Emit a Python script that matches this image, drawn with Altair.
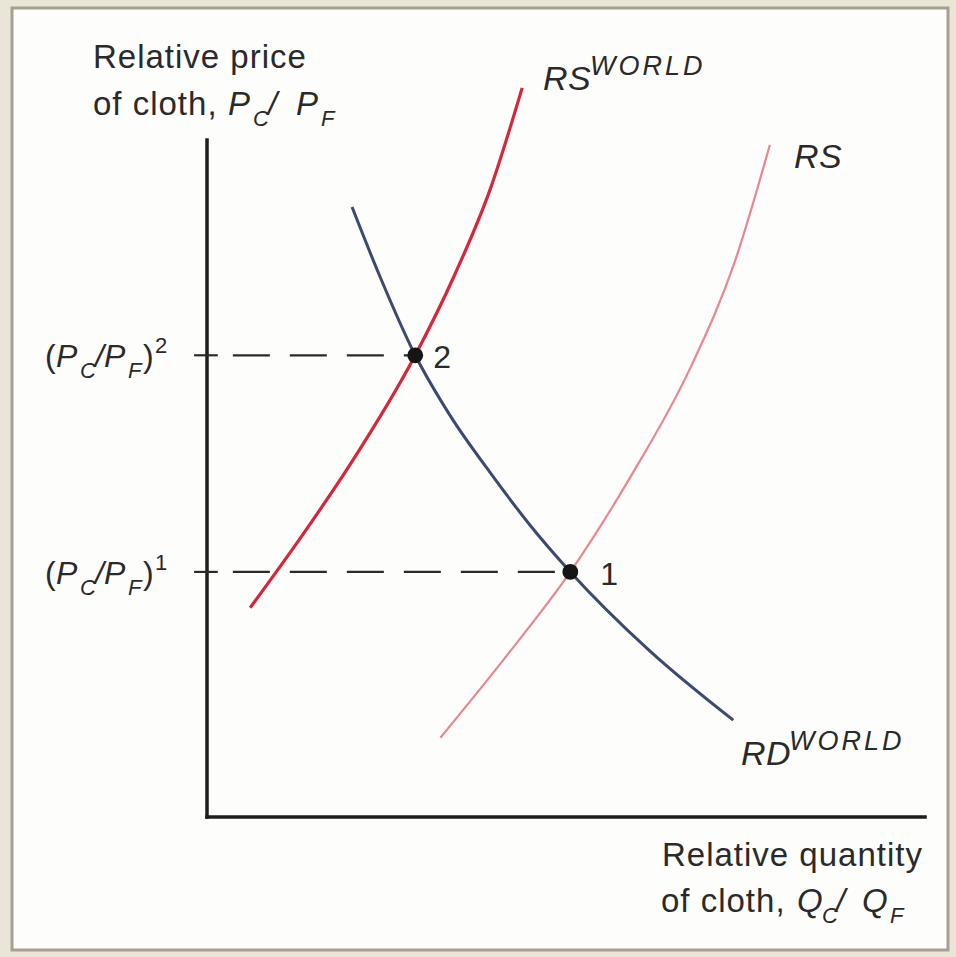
import altair as alt
import pandas as pd

# Supply and demand curves: relative quantity of cloth (q) vs relative price (p),
# both measured on 0-10 axes.
rs_world_q = [0.60, 1.30, 1.99, 2.90, 3.45, 3.94, 4.39]
rs_world_p = [3.09, 4.12, 5.20, 6.82, 8.01, 9.26, 10.77]

rs_q = [3.25, 4.15, 5.06, 5.89, 6.73, 7.35, 7.84]
rs_p = [1.17, 2.35, 3.62, 5.01, 6.63, 8.20, 9.93]

rd_world_q = [2.02, 2.41, 2.90, 3.38, 3.97, 4.50, 5.06, 6.17, 7.33]
rd_world_p = [9.01, 7.98, 6.82, 5.94, 5.05, 4.31, 3.62, 2.45, 1.43]

# Equilibria
eq_names = ["2", "1"]
eq_q = [2.90, 5.06]
eq_p = [6.82, 3.62]

FONT = "Liberation Sans"
INK = "#2a2a2a"

# plot region in pixels
X0, X1 = 207, 925
Y0, Y1 = 817, 140
xs = alt.Scale(domain=[0, 10], range=[X0, X1])
ys = alt.Scale(domain=[0, 10], range=[Y0, Y1])


def X(field):
    return alt.X(field, type="quantitative", scale=xs, axis=None)


def Y(field):
    return alt.Y(field, type="quantitative", scale=ys, axis=None)


one = pd.DataFrame({"k": [0]})

frame = alt.Chart(one).mark_rect(
    fill="#fdfdfb", stroke="#a59f94", strokeWidth=3
).encode(x=alt.value(12), x2=alt.value(948), y=alt.value(8), y2=alt.value(950))


def curve(q, p, color, width):
    df = pd.DataFrame({"q": q, "p": p})
    return alt.Chart(df).mark_line(
        color=color, strokeWidth=width, interpolate="monotone", clip=False
    ).encode(x=X("q"), y=Y("p"))


rs_world = curve(rs_world_q, rs_world_p, "#d6263a", 3.2)
rs = curve(rs_q, rs_p, "#e8878f", 2.2)
rd_world = curve(rd_world_q, rd_world_p, "#3b4a6e", 3.0)

eq = pd.DataFrame({"name": eq_names, "q": eq_q, "p": eq_p})

axes_df = pd.DataFrame({"x0": [0, 0], "x1": [0, 10], "y0": [0, 0], "y1": [10, 0]})
axes = alt.Chart(axes_df).mark_rule(color="#1e1e1e", strokeWidth=3.5, strokeCap="square").encode(
    x=X("x0"), x2="x1", y=Y("y0"), y2="y1"
)

dashes = alt.Chart(eq).transform_calculate(start="0.36").mark_rule(
    color="#2a2a2a", strokeWidth=2.2, strokeDash=[37, 20]
).encode(x=X("start"), x2="q", y=Y("p"))

ticks = alt.Chart(eq).transform_calculate(a="-0.18", b="0.15").mark_rule(
    color="#2a2a2a", strokeWidth=2.2
).encode(x=X("a"), x2="b", y=Y("p"))

dots = alt.Chart(eq).mark_circle(size=250, color="#151515", opacity=1).encode(x=X("q"), y=Y("p"))


def dot_label(name, dx):
    return alt.Chart(eq).transform_filter(alt.datum.name == name).mark_text(
        align="left", baseline="middle", dx=dx, dy=3, fontSize=32, font=FONT, color=INK
    ).encode(x=X("q"), y=Y("p"), text="name:N")


dot_labels = [dot_label("2", 18), dot_label("1", 30)]

# Advance widths (per 1000 em) used to space characters with extra tracking
WIDTHS = {
    " ": 278, ",": 278, "/": 278, "(": 333, ")": 333, "1": 556, "2": 556,
    "R": 722, "S": 667, "D": 722, "W": 944, "O": 778, "L": 556, "P": 667,
    "C": 722, "F": 611, "Q": 778,
    "a": 556, "c": 500, "e": 556, "f": 278, "h": 556, "i": 222, "l": 222,
    "n": 556, "o": 556, "p": 556, "q": 556, "r": 333, "t": 278, "u": 556,
    "v": 500, "y": 500,
}


def word(s, x, y, size=33, italic=False, track=1.0):
    pos, cur = [], x
    for ch in s:
        pos.append((cur - X0) * 10 / (X1 - X0))
        cur += WIDTHS[ch] * size / 1000 + track
    df = pd.DataFrame({"ch": list(s), "q": pos})
    df = df[df["ch"] != " "]
    return alt.Chart(df).mark_text(
        align="left", baseline="alphabetic", fontSize=size,
        fontStyle="italic" if italic else "normal", font=FONT, color=INK
    ).encode(x=X("q"), y=alt.value(y), text="ch:N")


def ratio(letter, xs_, y, size=33, sub=22):
    # letter_C / letter_F with subscripts, at hand-set x positions
    a, b, c, d, e = xs_
    return [
        word(letter, a, y, size, True, 0),
        word("C", b, y + 11, sub, True, 0),
        word("/", c, y, size, True, 0),
        word(letter, d, y, size, True, 0),
        word("F", e, y + 11, sub, True, 0),
    ]


def level(y, power):
    return [word("(", 45, y, 32, False, 0)] + ratio("P", (56, 80, 95, 104, 128), y, 32, 22) + [
        word(")", 143, y, 32, False, 0),
        word(power, 155, y - 14, 22, False, 0),
    ]


texts = []
texts += [word("Relative price", 93, 68), word("of cloth,", 93, 115)]
texts += ratio("P", (228, 253, 268, 296, 321), 115)
texts += [word("Relative quantity", 662, 866), word("of cloth,", 661, 912)]
texts += ratio("Q", (797, 822, 836, 862, 890), 912)
texts += level(367, "2")
texts += level(584, "1")
texts += [word("RS", 543, 90, 34, True, 0.5), word("WORLD", 590, 75, 27, True, 3)]
texts += [word("RS", 794, 168, 34, True, 0.5)]
texts += [word("RD", 741, 765, 34, True, 0.5), word("WORLD", 789, 750, 27, True, 3)]

chart = alt.layer(
    frame, rs_world, rs, rd_world, axes, dashes, ticks, dots, *dot_labels, *texts
).properties(
    width=956, height=957, background="#ebe5d7", padding=0, autosize="none"
).configure_view(stroke=None)

chart.save("out.html", embed_options={"renderer": "svg", "actions": False})
